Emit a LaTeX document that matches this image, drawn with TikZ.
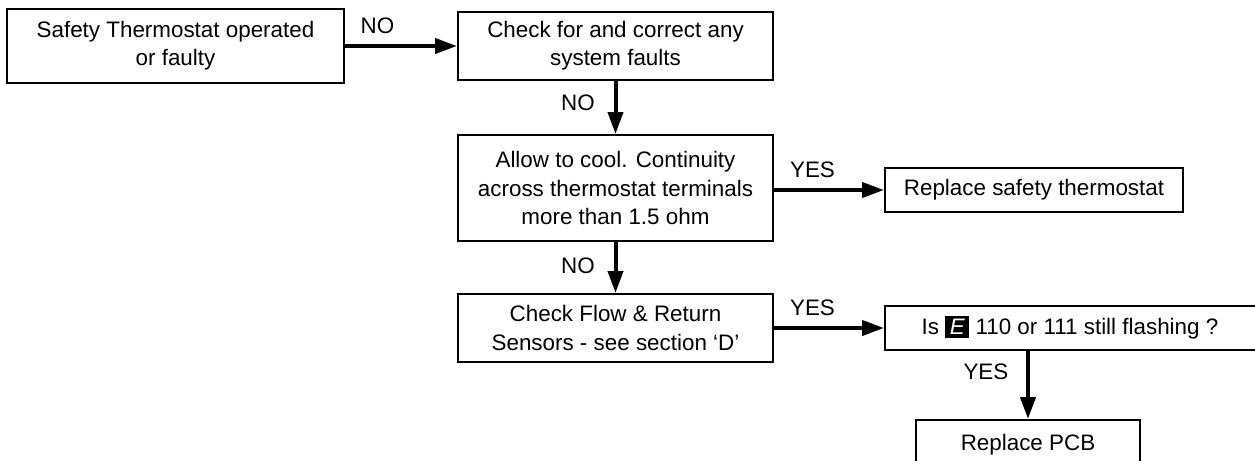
\documentclass[tikz,border=0pt]{standalone}
\usepackage{fontspec}
\setmainfont{Liberation Sans}
\usepackage{tikz}
\usetikzlibrary{positioning,arrows.meta,calc}
\newcommand{\ecode}{{\setlength{\fboxsep}{1.5pt}\colorbox{black}{\makebox[9pt]{\color{white}\itshape E}}}}

\begin{document}
\begin{tikzpicture}[x=0.5pt,y=-0.5pt,
    box/.style={draw,line width=1pt,align=center,inner sep=2pt,font=\fontsize{11.2}{14.2}\selectfont},
    flow/.style={line width=2pt,-{Triangle[length=11pt,width=7.5pt]}},
    lbl/.style={font=\fontsize{11.2}{14.2}\selectfont}]
        \useasboundingbox (0,0) rectangle (1255,461);
        \clip (0,0) rectangle (1255,461);
        \node[box,minimum width=168.5pt,minimum height=37pt] (safety) at (175.5,46) {Safety Thermostat operated\\or faulty};
        \node[box,minimum width=157.5pt,minimum height=34pt] (faults) at (615.5,46) {Check for and correct any\\system faults};
        \node[box,minimum width=157.5pt,minimum height=53pt] (cool) at (615.5,188) {Allow to cool. Continuity\\across thermostat terminals\\more than 1.5 ohm};
        \node[box,minimum width=149pt,minimum height=22pt] (thermo) at (1034,190) {Replace safety thermostat};
        \node[box,minimum width=157.5pt,minimum height=34pt] (sensors) at (615.5,328) {Check Flow \& Return\\Sensors - see section ‘D’};
        \node[box,minimum width=192pt,minimum height=22pt] (flashing) at (1077,328) {Is \ecode{} 110 or 111 still flashing ?\hspace*{7pt}};
        \node[box,minimum width=112pt,minimum height=25pt] (pcb) at (1028,445) {Replace PCB};
        \draw[flow] (safety.east) -- (safety.east -| faults.west) node[lbl,pos=0.29,above=2pt]{NO};
        \draw[flow] (faults.south) -- (cool.north) node[lbl,pos=0.42,left=6pt]{NO};
        \draw[flow] (cool.east |- thermo) -- (thermo.west) node[lbl,pos=0.35,above=2pt]{YES};
        \draw[flow] (cool.south) -- (sensors.north) node[lbl,pos=0.47,left=6pt]{NO};
        \draw[flow] (sensors.east) -- (sensors.east -| flashing.west) node[lbl,pos=0.35,above=2pt]{YES};
        \draw[flow] (flashing.south -| pcb) -- (pcb.north) node[lbl,pos=0.31,left=5.5pt]{YES};
      \end{tikzpicture}
\end{document}
